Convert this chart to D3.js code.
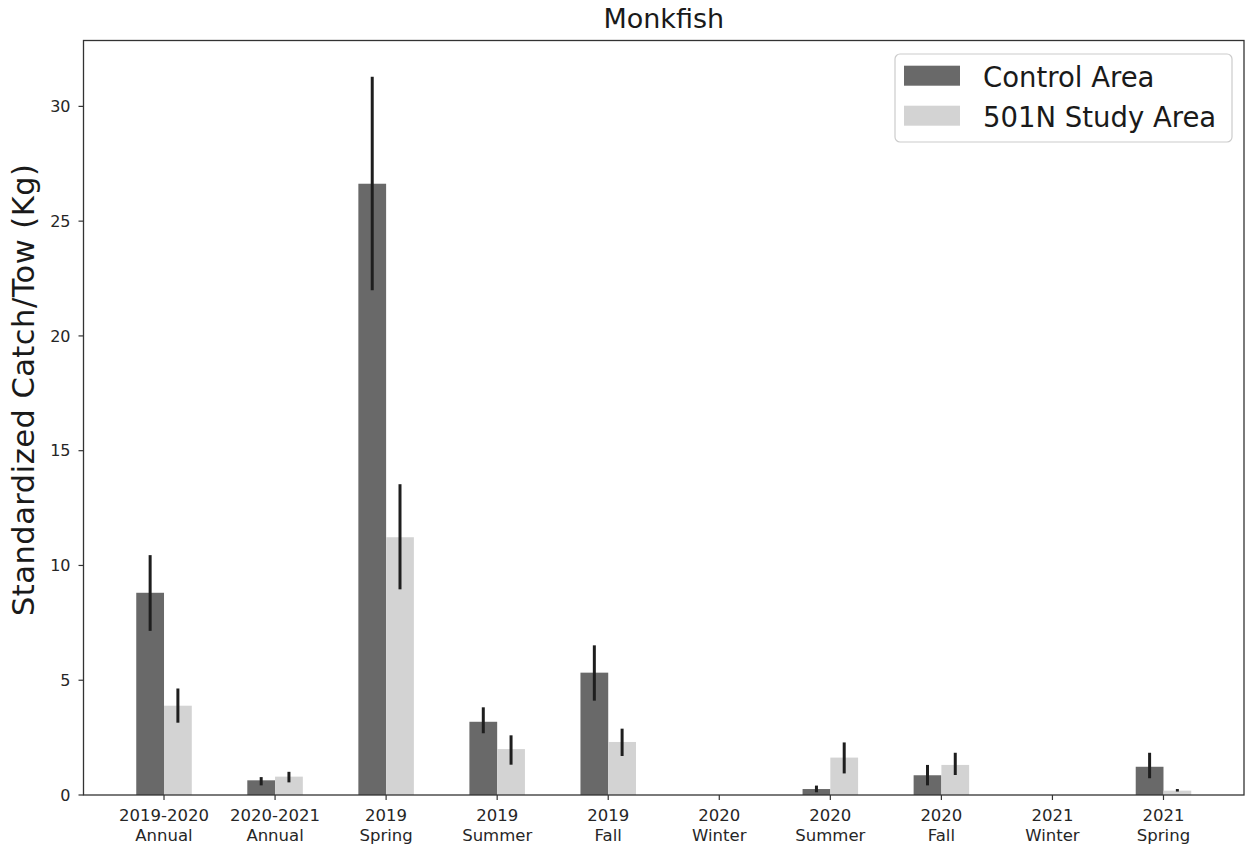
<!DOCTYPE html>
<html>
<head>
<meta charset="utf-8">
<script src="https://cdn.jsdelivr.net/npm/d3@7"></script>
<style>
  html, body { margin: 0; padding: 0; background: #fff; }
  svg { display: block; font-family: "DejaVu Sans", sans-serif; }
</style>
</head>
<body>
<svg id="chart" width="1246" height="849"></svg>
<script>
// ---- data ----
const catYear   = ["2019-2020","2020-2021","2019","2019","2019","2020","2020","2020","2021","2021"];
const catSeason = ["Annual","Annual","Spring","Summer","Fall","Winter","Summer","Fall","Winter","Spring"];
const seriesNames = ["Control Area", "501N Study Area"];
const control   = [8.81, 0.64, 26.63, 3.19, 5.33, null, 0.26, 0.86, null, 1.23];
const controlLo = [7.15, 0.42, 21.99, 2.69, 4.11, null, 0.12, 0.42, null, 0.73];
const controlHi = [10.45, 0.78, 31.29, 3.82, 6.52, null, 0.41, 1.31, null, 1.84];
const study     = [3.89, 0.80, 11.23, 2.00, 2.31, null, 1.63, 1.31, null, 0.19];
const studyLo   = [3.15, 0.55, 8.96, 1.32, 1.70, null, 0.94, 0.87, null, 0.15];
const studyHi   = [4.64, 1.01, 13.54, 2.60, 2.89, null, 2.29, 1.84, null, 0.26];
const yTicks = [0, 5, 10, 15, 20, 25, 30];
const titleText = "Monkfish";
const yLabelText = "Standardized Catch/Tow (Kg)";
const colors = ["#696969", "#d3d3d3"];

(function () {
// ---- layout ----
const svg = d3.select("#chart");
const pL = 83.5, pR = 1244, pT = 40.5, pB = 795;
const barW = 0.25;
const x = d3.scaleLinear().domain([-0.725, 9.725]).range([pL, pR]);
const y = d3.scaleLinear().domain([0, 32.87]).range([pB, pT]);

const series = [
  { name: seriesNames[0], vals: control, lo: controlLo, hi: controlHi, off: -barW, color: colors[0] },
  { name: seriesNames[1], vals: study, lo: studyLo, hi: studyHi, off: 0, color: colors[1] }
];

const plot = svg.append("g");
series.forEach(s => {
  const d = s.vals.map((v, i) => ({ i, v, lo: s.lo[i], hi: s.hi[i] })).filter(e => e.v != null);
  plot.selectAll(null).data(d).enter().append("rect")
    .attr("x", e => x(e.i + s.off))
    .attr("width", e => x(e.i + s.off + barW) - x(e.i + s.off))
    .attr("y", e => y(e.v))
    .attr("height", e => y(0) - y(e.v))
    .attr("fill", s.color);
});
series.forEach(s => {
  const d = s.vals.map((v, i) => ({ i, v, lo: s.lo[i], hi: s.hi[i] })).filter(e => e.v != null);
  plot.selectAll(null).data(d).enter().append("line")
    .attr("x1", e => x(e.i + s.off + barW / 2))
    .attr("x2", e => x(e.i + s.off + barW / 2))
    .attr("y1", e => y(e.lo))
    .attr("y2", e => y(e.hi))
    .attr("stroke", "#1e1e1e")
    .attr("stroke-width", 3);
});

// frame
svg.append("rect")
  .attr("x", pL).attr("y", pT)
  .attr("width", pR - pL).attr("height", pB - pT)
  .attr("fill", "none").attr("stroke", "#333").attr("stroke-width", 1.3);

// y axis
const yAxis = svg.append("g");
yTicks.forEach(t => {
  yAxis.append("line").attr("x1", pL - 5).attr("x2", pL)
    .attr("y1", y(t)).attr("y2", y(t)).attr("stroke", "#333").attr("stroke-width", 1.2);
  yAxis.append("text").attr("x", pL - 13).attr("y", y(t)).attr("dy", "0.36em")
    .attr("text-anchor", "end").attr("font-size", 16).attr("fill", "#262626").text(t);
});

// x axis
const xAxis = svg.append("g");
catYear.forEach((c, i) => {
  xAxis.append("line").attr("x1", x(i)).attr("x2", x(i))
    .attr("y1", pB).attr("y2", pB + 5).attr("stroke", "#333").attr("stroke-width", 1.2);
  const t = xAxis.append("text").attr("x", x(i)).attr("text-anchor", "middle")
    .attr("font-size", 16.5).attr("fill", "#262626");
  t.append("tspan").attr("x", x(i)).attr("y", 820.5).text(c);
  t.append("tspan").attr("x", x(i)).attr("y", 840.5).text(catSeason[i]);
});

// title
svg.append("text").attr("x", (pL + pR) / 2).attr("y", 28.3)
  .attr("text-anchor", "middle").attr("font-size", 27).attr("fill", "#1a1a1a").text(titleText);

// y label
svg.append("text").attr("transform", "translate(34," + 390 + ") rotate(-90)")
  .attr("text-anchor", "middle").attr("font-size", 30.5).attr("fill", "#1a1a1a")
  .attr("textLength", 452).attr("lengthAdjust", "spacing").text(yLabelText);

// legend
const lg = svg.append("g");
lg.append("rect").attr("x", 895).attr("y", 54).attr("width", 337).attr("height", 88)
  .attr("rx", 5).attr("fill", "#fff").attr("fill-opacity", 0.8)
  .attr("stroke", "#cccccc").attr("stroke-width", 1.2);
series.forEach((s, k) => {
  lg.append("rect").attr("x", 904).attr("y", 65.7 + k * 40).attr("width", 56).attr("height", 20)
    .attr("fill", s.color);
  lg.append("text").attr("x", 983).attr("y", 86.5 + k * 40)
    .attr("font-size", 27.5).attr("fill", "#1a1a1a").text(s.name);
});
})();
</script>
</body>
</html>
